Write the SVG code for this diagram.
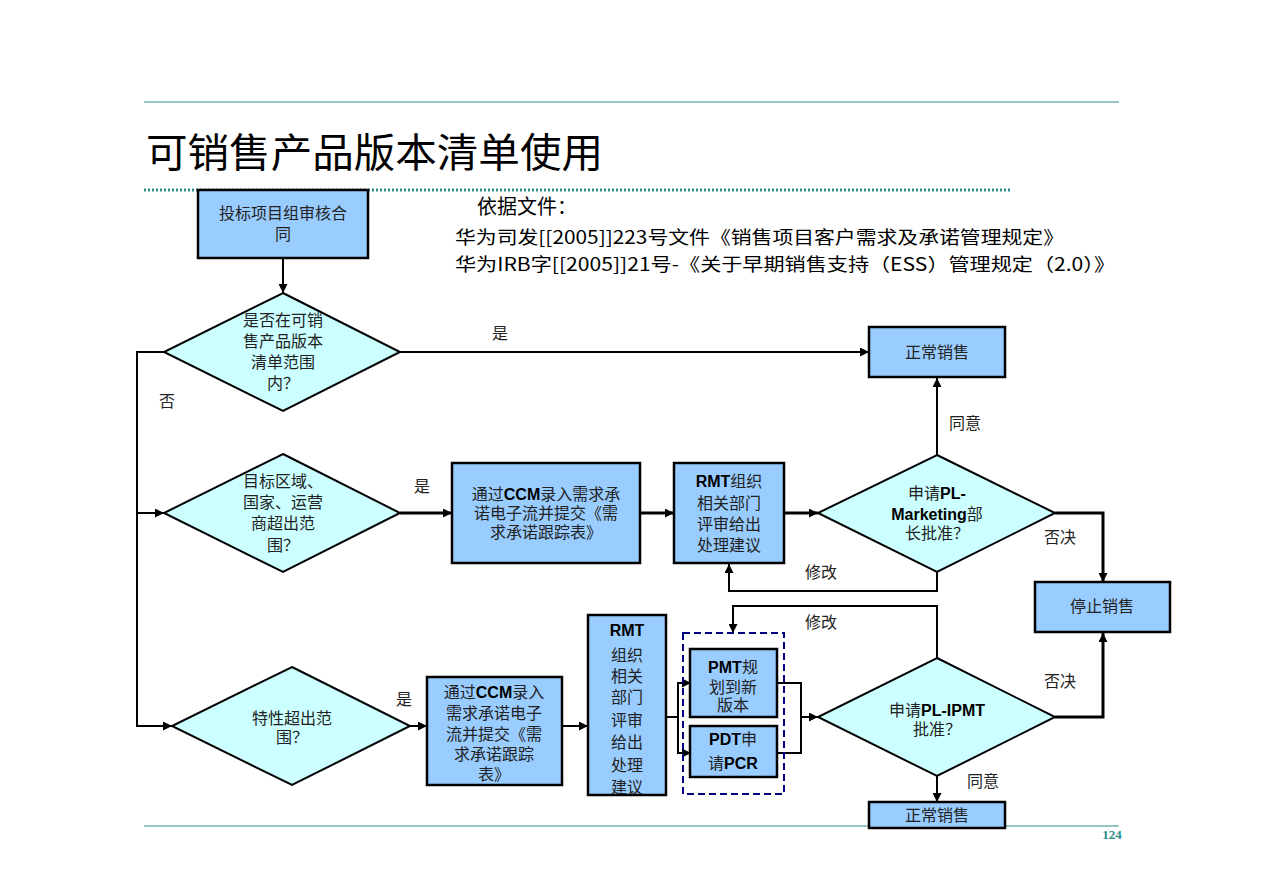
<svg xmlns="http://www.w3.org/2000/svg" width="1263" height="892" viewBox="0 0 1263 892">
<defs>
<marker id="ah" viewBox="0 0 10 10" refX="10" refY="5" markerWidth="10" markerHeight="9" markerUnits="userSpaceOnUse" orient="auto">
<path d="M0,0 L10,5 L0,10 z" fill="#000"/>
</marker>
</defs>
<style>
.box{fill:#99CCFF;stroke:#000;stroke-width:2.5}
.dia{fill:#CCFFFF;stroke:#000;stroke-width:2}
.t{font-family:"Noto Sans CJK SC","Noto Sans",sans-serif;font-size:16px;fill:#222;text-anchor:middle}
.b{font-family:"Liberation Sans","Noto Sans CJK SC",sans-serif;font-weight:bold;fill:#000}
.lbl{font-family:"Noto Sans CJK SC",sans-serif;font-size:16px;fill:#222}
.c{fill:none;stroke:#000;stroke-width:2}
.ck{fill:none;stroke:#000;stroke-width:3}
</style>
<rect width="1263" height="892" fill="#fff"/>
<g id="frame">
<line x1="144" y1="102" x2="1119" y2="102" stroke="#2E8B8B" stroke-width="1.2"/>
<line x1="144" y1="190" x2="1010" y2="190" stroke="#2E8B8B" stroke-width="3" stroke-dasharray="2,2"/>
<line x1="144" y1="826" x2="1119" y2="826" stroke="#2E8B8B" stroke-width="1.2"/>
<text x="146" y="167" font-family="Noto Sans CJK SC,sans-serif" font-size="40" fill="#000" textLength="457" lengthAdjust="spacingAndGlyphs">可销售产品版本清单使用</text>
<text x="1112" y="839" font-family="Liberation Serif,serif" font-size="13" font-weight="bold" fill="#2E8B8B" text-anchor="middle">124</text>
<text x="477" y="214" font-family="Noto Sans CJK SC,sans-serif" font-size="20" fill="#000">依据文件：</text>
<text x="455" y="244" font-family="Noto Sans CJK SC,sans-serif" font-size="18" fill="#000" textLength="609" lengthAdjust="spacingAndGlyphs">华为司发[[2005]]223号文件《销售项目客户需求及承诺管理规定》</text>
<text x="455" y="271" font-family="Noto Sans CJK SC,sans-serif" font-size="18" fill="#000" textLength="660" lengthAdjust="spacingAndGlyphs">华为IRB字[[2005]]21号-《关于早期销售支持（ESS）管理规定（2.0）》</text>
</g>
<g id="connectors">
<line class="c" x1="283" y1="259" x2="283" y2="293" marker-end="url(#ah)"/>
<line class="c" x1="400" y1="352" x2="869" y2="352" marker-end="url(#ah)"/>
<polyline class="c" points="164,352 137,352 137,726 172,726" marker-end="url(#ah)"/>
<line class="c" x1="137" y1="513" x2="164" y2="513" marker-end="url(#ah)"/>
<line class="ck" x1="400" y1="513" x2="452" y2="513" marker-end="url(#ah)"/>
<line class="ck" x1="640" y1="513" x2="674" y2="513" marker-end="url(#ah)"/>
<line class="ck" x1="784" y1="513" x2="818" y2="513" marker-end="url(#ah)"/>
<line class="c" x1="937" y1="455" x2="937" y2="378" marker-end="url(#ah)"/>
<polyline class="ck" points="1055,513 1103,513 1103,582" marker-end="url(#ah)"/>
<polyline class="c" points="937,572 937,591 729,591 729,564" marker-end="url(#ah)"/>
<line class="c" x1="410" y1="726" x2="427" y2="726" marker-end="url(#ah)"/>
<line class="c" x1="562" y1="726" x2="588" y2="726" marker-end="url(#ah)"/>
<polyline class="c" points="666,717 678,717"/>
<polyline class="c" points="691,683 678,683 678,753 691,753"/>
<line class="c" x1="678" y1="683" x2="691" y2="683" marker-end="url(#ah)"/>
<line class="c" x1="678" y1="753" x2="691" y2="753" marker-end="url(#ah)"/>
<polyline class="c" points="777,683 801,683 801,753 777,753"/>
<line class="c" x1="801" y1="717" x2="818" y2="717" marker-end="url(#ah)"/>
<polyline class="c" points="937,658 937,606 733,606 733,633" marker-end="url(#ah)"/>
<polyline class="ck" points="1055,717 1103,717 1103,633" marker-end="url(#ah)"/>
<line class="c" x1="937" y1="776" x2="937" y2="802" marker-end="url(#ah)"/>
<text class="lbl" x="492" y="339">是</text>
<text class="lbl" x="159" y="407">否</text>
<text class="lbl" x="414" y="492">是</text>
<text class="lbl" x="949" y="429">同意</text>
<text class="lbl" x="1044" y="543">否决</text>
<text class="lbl" x="805" y="578">修改</text>
<text class="lbl" x="805" y="628">修改</text>
<text class="lbl" x="1044" y="687">否决</text>
<text class="lbl" x="396" y="705">是</text>
<text class="lbl" x="967" y="787">同意</text>
</g>
<g id="n-start">
<rect class="box" x="198" y="190" width="170" height="68"/>
<text class="t" x="283" y="219">投标项目组审核合</text>
<text class="t" x="283" y="240">同</text>
</g>
<g id="d-list">
<polygon class="dia" points="283,293 400,352 283,411 164,352"/>
<text class="t" x="283" y="326">是否在可销</text>
<text class="t" x="283" y="347">售产品版本</text>
<text class="t" x="283" y="368">清单范围</text>
<text class="t" x="283" y="389">内？</text>
</g>
<g id="n-normal1">
<rect class="box" x="869" y="327" width="136" height="50"/>
<text class="t" x="937" y="358">正常销售</text>
</g>
<g id="d-region">
<polygon class="dia" points="283,454 400,513 283,572 164,513"/>
<text class="t" x="283" y="487">目标区域、</text>
<text class="t" x="283" y="508">国家、运营</text>
<text class="t" x="283" y="529">商超出范</text>
<text class="t" x="283" y="551">围？</text>
</g>
<g id="n-ccm1">
<rect class="box" x="452" y="463" width="188" height="100"/>
<text class="t" x="546" y="500">通过<tspan class="b">CCM</tspan>录入需求承</text>
<text class="t" x="546" y="519">诺电子流并提交《需</text>
<text class="t" x="546" y="538">求承诺跟踪表》</text>
</g>
<g id="n-rmt1">
<rect class="box" x="674" y="463" width="110" height="100"/>
<text class="t" x="729" y="487"><tspan class="b">RMT</tspan>组织</text>
<text class="t" x="729" y="509">相关部门</text>
<text class="t" x="729" y="530">评审给出</text>
<text class="t" x="729" y="551">处理建议</text>
</g>
<g id="d-mkt">
<polygon class="dia" points="937,455 1055,513 937,572 818,513"/>
<text class="t" x="937" y="499">申请<tspan class="b">PL-</tspan></text>
<text class="t" x="937" y="520"><tspan class="b">Marketing</tspan>部</text>
<text class="t" x="937" y="539">长批准？</text>
</g>
<g id="n-stop">
<rect class="box" x="1035" y="582" width="135" height="50"/>
<text class="t" x="1102" y="612">停止销售</text>
</g>
<g id="d-feature">
<polygon class="dia" points="292,667 410,726 292,785 172,726"/>
<text class="t" x="292" y="724">特性超出范</text>
<text class="t" x="292" y="743">围？</text>
</g>
<g id="n-ccm2">
<rect class="box" x="427" y="677" width="135" height="108"/>
<text class="t" x="494" y="698">通过<tspan class="b">CCM</tspan>录入</text>
<text class="t" x="494" y="719">需求承诺电子</text>
<text class="t" x="494" y="740">流并提交《需</text>
<text class="t" x="494" y="760">求承诺跟踪</text>
<text class="t" x="494" y="780">表》</text>
</g>
<g id="n-rmt2">
<rect class="box" x="588" y="615" width="78" height="180"/>
<text class="t" x="627" y="636"><tspan class="b">RMT</tspan></text>
<text class="t" x="627" y="661">组织</text>
<text class="t" x="627" y="682">相关</text>
<text class="t" x="627" y="703">部门</text>
<text class="t" x="627" y="726">评审</text>
<text class="t" x="627" y="748">给出</text>
<text class="t" x="627" y="771">处理</text>
<text class="t" x="627" y="793">建议</text>
</g>
<g id="g-dashed">
<rect x="683" y="633" width="101" height="161" fill="none" stroke="#000080" stroke-width="2" stroke-dasharray="7,4"/>
</g>
<g id="n-pmt">
<rect class="box" x="690" y="649" width="87" height="68"/>
<text class="t" x="733" y="673"><tspan class="b">PMT</tspan>规</text>
<text class="t" x="733" y="693">划到新</text>
<text class="t" x="733" y="711">版本</text>
</g>
<g id="n-pdt">
<rect class="box" x="690" y="726" width="87" height="51"/>
<text class="t" x="733" y="745"><tspan class="b">PDT</tspan>申</text>
<text class="t" x="733" y="769">请<tspan class="b">PCR</tspan></text>
</g>
<g id="d-ipmt">
<polygon class="dia" points="937,658 1055,717 937,776 818,717"/>
<text class="t" x="937" y="716">申请<tspan class="b">PL-IPMT</tspan></text>
<text class="t" x="937" y="735">批准？</text>
</g>
<g id="n-normal2">
<rect class="box" x="869" y="802" width="136" height="26"/>
<text class="t" x="937" y="821">正常销售</text>
</g>
</svg>
